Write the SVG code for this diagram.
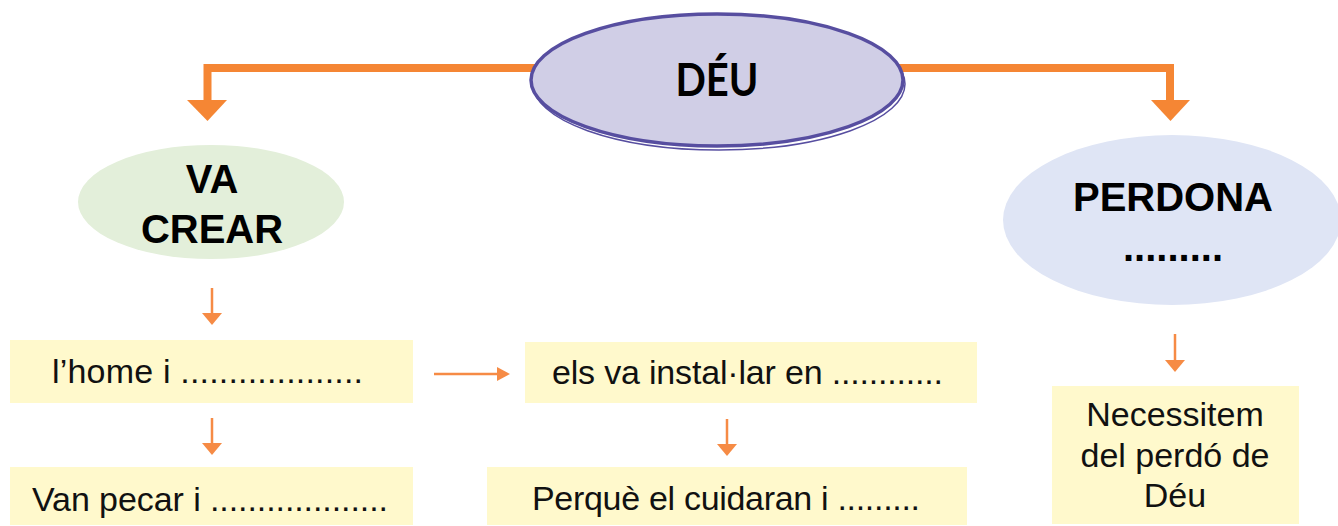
<svg xmlns="http://www.w3.org/2000/svg" width="1338" height="526" viewBox="0 0 1338 526">
<defs>
<style>
.box{fill:#fff9cc}
.t{font-family:"Liberation Sans",Arial,sans-serif;font-size:34px;fill:#111}
.b{font-family:"Liberation Sans",Arial,sans-serif;font-size:40px;font-weight:bold;fill:#000;text-anchor:middle}
.thick{fill:none;stroke:#f58634;stroke-width:8}
.thin{fill:none;stroke:#f68b45;stroke-width:2.5}
.head{fill:#f58634}
.headt{fill:#f68b45}
</style>
</defs>
<rect width="1338" height="526" fill="#ffffff"/>
<g id="connectors">
<path class="thick" d="M540 68 H207.5 V101"/>
<polygon class="head" points="187,100 227,100 207.5,121"/>
<path class="thick" d="M895 68 H1170 V101"/>
<polygon class="head" points="1151,100 1190,100 1170.5,121"/>
<line class="thin" x1="212" y1="288" x2="212" y2="314"/>
<polygon class="headt" points="202,313 222,313 212,325"/>
<line class="thin" x1="212" y1="418" x2="212" y2="444"/>
<polygon class="headt" points="202,443 222,443 212,455"/>
<line class="thin" x1="727" y1="419" x2="727" y2="445"/>
<polygon class="headt" points="717,444 737,444 727,456"/>
<line class="thin" x1="1175" y1="334" x2="1175" y2="361"/>
<polygon class="headt" points="1165,360 1185,360 1175,372"/>
<line class="thin" x1="434" y1="374" x2="498" y2="374"/>
<polygon class="headt" points="497,367 497,381 510,374"/>
</g>
<g id="deu">
<ellipse cx="719" cy="84" rx="186" ry="66" fill="none" stroke="#574ea0" stroke-width="1.5"/>
<ellipse cx="717" cy="80" rx="186" ry="66" fill="#d0cee6" stroke="#574ea0" stroke-width="3.5"/>
<text x="717" y="96" font-family="Lato,'Open Sans',sans-serif" font-weight="bold" font-size="46" text-anchor="middle" textLength="83" lengthAdjust="spacingAndGlyphs" fill="#000">DÉU</text>
</g>
<g id="va-crear">
<ellipse cx="211" cy="202" rx="133" ry="57" fill="#e3efda"/>
<text class="b" x="212" y="193">VA</text>
<text class="b" x="212" y="243">CREAR</text>
</g>
<g id="perdona">
<ellipse cx="1172" cy="220" rx="169" ry="85" fill="#dfe5f5"/>
<text class="b" x="1173" y="211" font-size="42">PERDONA</text>
<text class="b" x="1173" y="261" font-size="42">.........</text>
</g>
<g id="home">
<rect class="box" x="10" y="340" width="403" height="63"/>
<text class="t" x="52" y="383" textLength="311">l’home i ...................</text>
</g>
<g id="instal">
<rect class="box" x="525" y="342" width="452" height="61"/>
<text class="t" x="552" y="384" textLength="391">els va instal·lar en ............</text>
</g>
<g id="pecar">
<rect class="box" x="10" y="467" width="403" height="58"/>
<text class="t" x="32" y="511" textLength="356">Van pecar i ...................</text>
</g>
<g id="cuidaran">
<rect class="box" x="487" y="467" width="480" height="58"/>
<text class="t" x="532" y="510" textLength="388">Perquè el cuidaran i .........</text>
</g>
<g id="necessitem">
<rect class="box" x="1052" y="386" width="247" height="138"/>
<text class="t" x="1175" y="426" text-anchor="middle" font-size="33">Necessitem</text>
<text class="t" x="1175" y="467" text-anchor="middle" font-size="33">del perdó de</text>
<text class="t" x="1175" y="507" text-anchor="middle" font-size="33">Déu</text>
</g>
</svg>
